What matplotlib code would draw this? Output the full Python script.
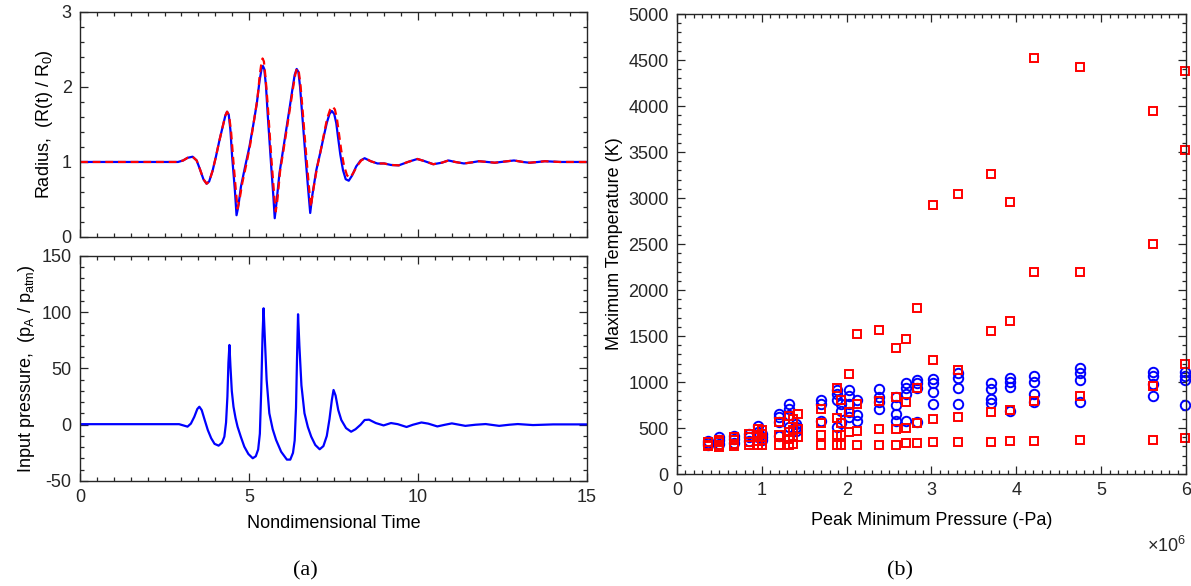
import matplotlib
matplotlib.use("Agg")
import matplotlib.pyplot as plt
from matplotlib.ticker import MultipleLocator

plt.rcParams['font.family'] = ['Liberation Sans', 'DejaVu Sans']
plt.rcParams['mathtext.fontset'] = 'custom'
plt.rcParams['mathtext.rm'] = 'Liberation Sans'
plt.rcParams['mathtext.it'] = 'Liberation Sans'
plt.rcParams['axes.unicode_minus'] = False

INK = '#262626'

# ---- panel (a): radius and input pressure vs nondimensional time ----
t_blue = [0, 2.9, 3.05, 3.18, 3.33, 3.45, 3.55, 3.65, 3.745, 3.82, 3.92, 4.02, 4.12,
          4.22, 4.30, 4.35, 4.40, 4.45, 4.50, 4.58, 4.63, 4.68, 4.76, 4.88, 5.01, 5.12,
          5.23, 5.31, 5.37, 5.41, 5.45, 5.50, 5.55, 5.65, 5.72, 5.76, 5.81, 5.90, 6.00,
          6.10, 6.20, 6.28, 6.35, 6.41, 6.46, 6.51, 6.57, 6.67, 6.75, 6.81, 6.87, 6.99,
          7.10, 7.21, 7.30, 7.38, 7.45, 7.52, 7.58, 7.63, 7.70, 7.78, 7.86, 7.95, 8.05,
          8.17, 8.30, 8.42, 8.6, 8.8, 9.0, 9.2, 9.43, 9.7, 9.98, 10.2, 10.45, 10.7, 10.9,
          11.1, 11.36, 11.6, 11.8, 12.05, 12.27, 12.55, 12.84, 13.1, 13.3, 13.55, 13.75,
          14.2, 15]
r_blue = [1.0, 1.0, 1.02, 1.055, 1.07, 1.02, 0.90, 0.77, 0.71, 0.74, 0.88, 1.07, 1.28,
          1.47, 1.62, 1.67, 1.63, 1.42, 1.07, 0.63, 0.29, 0.40, 0.67, 0.93, 1.2, 1.48,
          1.78, 2.08, 2.24, 2.28, 2.24, 2.02, 1.65, 0.98, 0.54, 0.25, 0.45, 0.85, 1.14,
          1.43, 1.72, 1.96, 2.16, 2.24, 2.20, 2.00, 1.65, 1.07, 0.63, 0.32, 0.55, 0.89,
          1.11, 1.34, 1.52, 1.64, 1.68, 1.64, 1.52, 1.34, 1.10, 0.89, 0.77, 0.75, 0.82,
          0.94, 1.02, 1.05, 1.01, 0.98, 0.98, 0.96, 0.955, 1.0, 1.04, 1.01, 0.97, 0.99,
          1.02, 1.0, 0.98, 0.995, 1.01, 1.0, 0.99, 1.005, 1.02, 1.0, 0.99, 1.0, 1.01,
          1.0, 1.0]

t_red = [0, 2.9, 3.05, 3.18, 3.33, 3.45, 3.55, 3.65, 3.745, 3.82, 3.92, 4.02, 4.12,
         4.22, 4.30, 4.35, 4.41, 4.47, 4.53, 4.61, 4.66, 4.72, 4.80, 4.92, 5.03, 5.14,
         5.25, 5.32, 5.37, 5.40, 5.44, 5.49, 5.55, 5.66, 5.74, 5.79, 5.84, 5.92, 6.02,
         6.12, 6.22, 6.30, 6.37, 6.42, 6.47, 6.52, 6.58, 6.69, 6.77, 6.83, 6.89, 7.01,
         7.12, 7.22, 7.31, 7.40, 7.47, 7.54, 7.60, 7.66, 7.73, 7.81, 7.90, 7.99, 8.08,
         8.2, 8.32, 8.43, 8.6, 8.8, 9.0, 9.2, 9.43, 9.7, 9.98, 10.2, 10.45, 10.7, 10.9,
         11.1, 11.36, 11.6, 11.8, 12.05, 12.27, 12.55, 12.84, 13.1, 13.3, 13.55, 13.75,
         14.2, 15]
r_red = [1.0, 1.0, 1.02, 1.055, 1.07, 1.02, 0.90, 0.77, 0.71, 0.74, 0.88, 1.07, 1.28,
         1.47, 1.62, 1.67, 1.62, 1.40, 1.05, 0.62, 0.38, 0.50, 0.72, 0.97, 1.22, 1.53,
         1.85, 2.17, 2.33, 2.38, 2.34, 2.12, 1.78, 1.05, 0.58, 0.34, 0.50, 0.88, 1.16,
         1.45, 1.74, 1.98, 2.17, 2.25, 2.21, 2.04, 1.72, 1.10, 0.68, 0.40, 0.60, 0.92,
         1.15, 1.38, 1.58, 1.70, 1.74, 1.70, 1.58, 1.38, 1.15, 0.95, 0.82, 0.79, 0.85,
         0.95, 1.02, 1.05, 1.01, 0.98, 0.98, 0.96, 0.955, 1.0, 1.04, 1.01, 0.97, 0.99,
         1.02, 1.0, 0.98, 0.995, 1.01, 1.0, 0.99, 1.005, 1.02, 1.0, 0.99, 1.0, 1.01,
         1.0, 1.0]

t_p = [0, 2.93, 3.08, 3.18, 3.28, 3.38, 3.47, 3.53, 3.60, 3.68, 3.78, 3.88, 3.98, 4.10,
       4.20, 4.27, 4.32, 4.36, 4.39, 4.42, 4.45, 4.49, 4.54, 4.60, 4.66, 4.76, 4.86,
       4.98, 5.11, 5.20, 5.27, 5.32, 5.36, 5.40, 5.43, 5.47, 5.52, 5.60, 5.70, 5.80,
       5.95, 6.12, 6.22, 6.30, 6.35, 6.39, 6.42, 6.45, 6.49, 6.55, 6.64, 6.74, 6.84,
       6.96, 7.09, 7.20, 7.30, 7.38, 7.45, 7.50, 7.56, 7.64, 7.73, 7.87, 8.02, 8.15,
       8.3, 8.42, 8.55, 8.75, 8.98, 9.2, 9.4, 9.66, 9.85, 10.1, 10.3, 10.57, 10.8,
       11.0, 11.4, 11.7, 12.0, 12.4, 12.7, 12.95, 13.4, 14.0, 15]
p_in = [0.5, 0.5, -0.8, -1.7, 1, 7, 14, 16, 13, 5, -4.7, -12, -17, -18.6,
        -16, -10.6, 2, 25, 55, 70.9, 52, 30, 16, 6, -1.7, -11, -19.5,
        -26, -29.8, -28, -22, -8, 30, 80, 103.5, 75, 40, 10.2, -4, -13.5,
        -24, -31, -31, -25, -14, 15, 60, 98.2, 70, 35, 10.2, -2, -10.6,
        -18, -21.8, -19, -10, 5, 22, 30.9, 26, 13, 4.2, -3, -6.2, -4,
        0, 4.2, 4.5, 1.5, -0.6, 1.5, 0.5, -2, 0, 2, 1, -1.5, 0,
        1.2, -1, 0, 0.6, -1, 0, 0.6, -0.3, 0.3, 0.3]

# ---- panel (b): max temperature vs peak minimum pressure (x1e6 Pa) ----
circ_pressure = [0.36, 0.36, 0.36, 0.49, 0.49, 0.49, 0.67, 0.67, 0.67, 0.85, 0.85, 0.85,
                 0.95, 0.95, 0.95, 1.00, 1.00, 1.00, 1.20, 1.20, 1.20, 1.20,
                 1.32, 1.32, 1.32, 1.32, 1.40, 1.40, 1.40, 1.70, 1.70, 1.70,
                 1.89, 1.89, 1.89, 1.89, 1.93, 1.93, 1.93,
                 2.03, 2.03, 2.03, 2.03, 2.03, 2.12, 2.12, 2.12,
                 2.38, 2.38, 2.38, 2.38, 2.58, 2.58, 2.58, 2.58,
                 2.70, 2.70, 2.70, 2.70, 2.83, 2.83, 2.83, 2.83,
                 3.02, 3.02, 3.02, 3.02, 3.31, 3.31, 3.31, 3.31,
                 3.70, 3.70, 3.70, 3.70, 3.93, 3.93, 3.93, 3.93,
                 4.21, 4.21, 4.21, 4.21, 4.75, 4.75, 4.75, 4.75,
                 5.61, 5.61, 5.61, 5.61, 5.99, 5.99, 5.99, 5.99]
circ_temp = [320, 340, 355, 330, 365, 400, 340, 380, 410, 360, 400, 440,
             400, 455, 520, 370, 400, 440, 410, 560, 620, 655,
             510, 640, 710, 765, 470, 510, 540, 580, 760, 800,
             510, 800, 870, 910, 550, 690, 760,
             620, 670, 760, 850, 910, 580, 640, 800,
             710, 780, 840, 920, 575, 655, 750, 840,
             580, 870, 930, 985, 570, 930, 990, 1025,
             765, 895, 985, 1030, 760, 930, 1040, 1095,
             770, 810, 925, 985, 680, 950, 995, 1040,
             785, 875, 1005, 1070, 780, 1020, 1100, 1150,
             850, 980, 1065, 1110, 750, 1020, 1065, 1110]

sq_pressure = [0.36, 0.36, 0.36, 0.49, 0.49, 0.49, 0.49, 0.67, 0.67, 0.67, 0.67,
               0.85, 0.85, 0.85, 0.85, 0.95, 0.95, 0.95, 0.95, 1.00, 1.00, 1.00, 1.00,
               1.20, 1.20, 1.20, 1.32, 1.32, 1.32, 1.32, 1.37, 1.37, 1.37, 1.37,
               1.43, 1.43, 1.43, 1.70, 1.70, 1.70, 1.70, 1.89, 1.89, 1.89, 1.89,
               1.93, 1.93, 1.93, 1.93, 2.03, 2.03, 2.03, 2.12, 2.12, 2.12, 2.12,
               2.38, 2.38, 2.38, 2.38, 2.58, 2.58, 2.58, 2.58, 2.70, 2.70, 2.70, 2.70,
               2.83, 2.83, 2.83, 2.83, 3.02, 3.02, 3.02, 3.02, 3.31, 3.31, 3.31, 3.31,
               3.70, 3.70, 3.70, 3.70, 3.93, 3.93, 3.93, 3.93, 4.21, 4.21, 4.21, 4.21,
               4.75, 4.75, 4.75, 4.75, 5.61, 5.61, 5.61, 5.61, 5.99, 5.99, 5.99, 5.99]
sq_temp = [300, 320, 345, 295, 320, 345, 370, 300, 330, 370, 400,
           310, 350, 400, 440, 310, 360, 420, 490, 310, 370, 430, 480,
           310, 420, 560, 320, 380, 460, 630, 330, 400, 480, 600,
           400, 490, 650, 310, 420, 550, 710, 310, 420, 610, 930,
           320, 420, 550, 800, 455, 670, 1085, 320, 470, 760, 1520,
           320, 485, 790, 1560, 320, 490, 840, 1365, 335, 495, 785, 1470,
           340, 550, 940, 1805, 345, 600, 1240, 2920, 345, 620, 1130, 3040,
           345, 675, 1550, 3265, 355, 700, 1660, 2960, 355, 795, 2200, 4520,
           365, 850, 2200, 4420, 365, 960, 2500, 3945, 395, 1200, 3520, 4385]


def style_axes(ax, fs=13):
    for s in ax.spines.values():
        s.set_color(INK)
        s.set_linewidth(1.0)
    ax.tick_params(which='both', direction='in', top=True, right=True,
                   bottom=True, left=True, colors=INK, labelsize=fs, width=0.9, pad=6)
    ax.tick_params(which='major', length=5.5)
    ax.tick_params(which='minor', length=3)


fig = plt.figure(figsize=(11.91, 5.86), dpi=100)

ax1 = fig.add_axes([0.0672, 0.5956, 0.4257, 0.384])
ax1.plot(t_blue, r_blue, color='blue', lw=1.6)
ax1.plot(t_red, r_red, color='red', lw=1.6, ls=(0, (3.5, 2.2)))
ax1.set_xlim(0, 15)
ax1.set_ylim(0, 3)
ax1.xaxis.set_major_locator(MultipleLocator(5))
ax1.xaxis.set_minor_locator(MultipleLocator(0.5))
ax1.yaxis.set_major_locator(MultipleLocator(1))
ax1.yaxis.set_minor_locator(MultipleLocator(0.2))
ax1.set_xticklabels([])
ax1.set_ylabel('Radius,  (R(t) / R$_0$)', fontsize=13, color='black', labelpad=5)
style_axes(ax1)

ax2 = fig.add_axes([0.0672, 0.1792, 0.4257, 0.384])
ax2.plot(t_p, p_in, color='blue', lw=1.6)
ax2.set_xlim(0, 15)
ax2.set_ylim(-50, 150)
ax2.xaxis.set_major_locator(MultipleLocator(5))
ax2.xaxis.set_minor_locator(MultipleLocator(0.5))
ax2.yaxis.set_major_locator(MultipleLocator(50))
ax2.yaxis.set_minor_locator(MultipleLocator(10))
ax2.set_xlabel('Nondimensional Time', fontsize=13, color='black', labelpad=6)
ax2.set_ylabel('Input pressure,  (p$_A$ / p$_{atm}$)', fontsize=13, color='black', labelpad=3)
style_axes(ax2)

ax3 = fig.add_axes([0.5684, 0.1911, 0.4274, 0.785])
ax3.plot(circ_pressure, circ_temp, ls='none', marker='o', ms=6.8, mfc='none',
         mec='blue', mew=1.4, clip_on=False)
ax3.plot(sq_pressure, sq_temp, ls='none', marker='s', ms=5.2, mfc='none',
         mec='red', mew=1.4, clip_on=False)
ax3.set_xlim(0, 6)
ax3.set_ylim(0, 5000)
ax3.xaxis.set_major_locator(MultipleLocator(1))
ax3.xaxis.set_minor_locator(MultipleLocator(0.1))
ax3.yaxis.set_major_locator(MultipleLocator(500))
ax3.yaxis.set_minor_locator(MultipleLocator(100))
ax3.set_xlabel('Peak Minimum Pressure (-Pa)', fontsize=13, color='black', labelpad=9)
ax3.set_ylabel('Maximum Temperature (K)', fontsize=13, color='black', labelpad=4)
ax3.text(1.0, -0.17, r'$\times$10$^6$', transform=ax3.transAxes, ha='right',
         va='baseline', fontsize=13, color=INK)
style_axes(ax3)

fig.text(0.256, 0.018, '(a)', family='Liberation Serif', fontsize=16, ha='center')
fig.text(0.756, 0.018, '(b)', family='Liberation Serif', fontsize=16, ha='center')

fig.savefig('out.png', dpi=100, facecolor='white')
